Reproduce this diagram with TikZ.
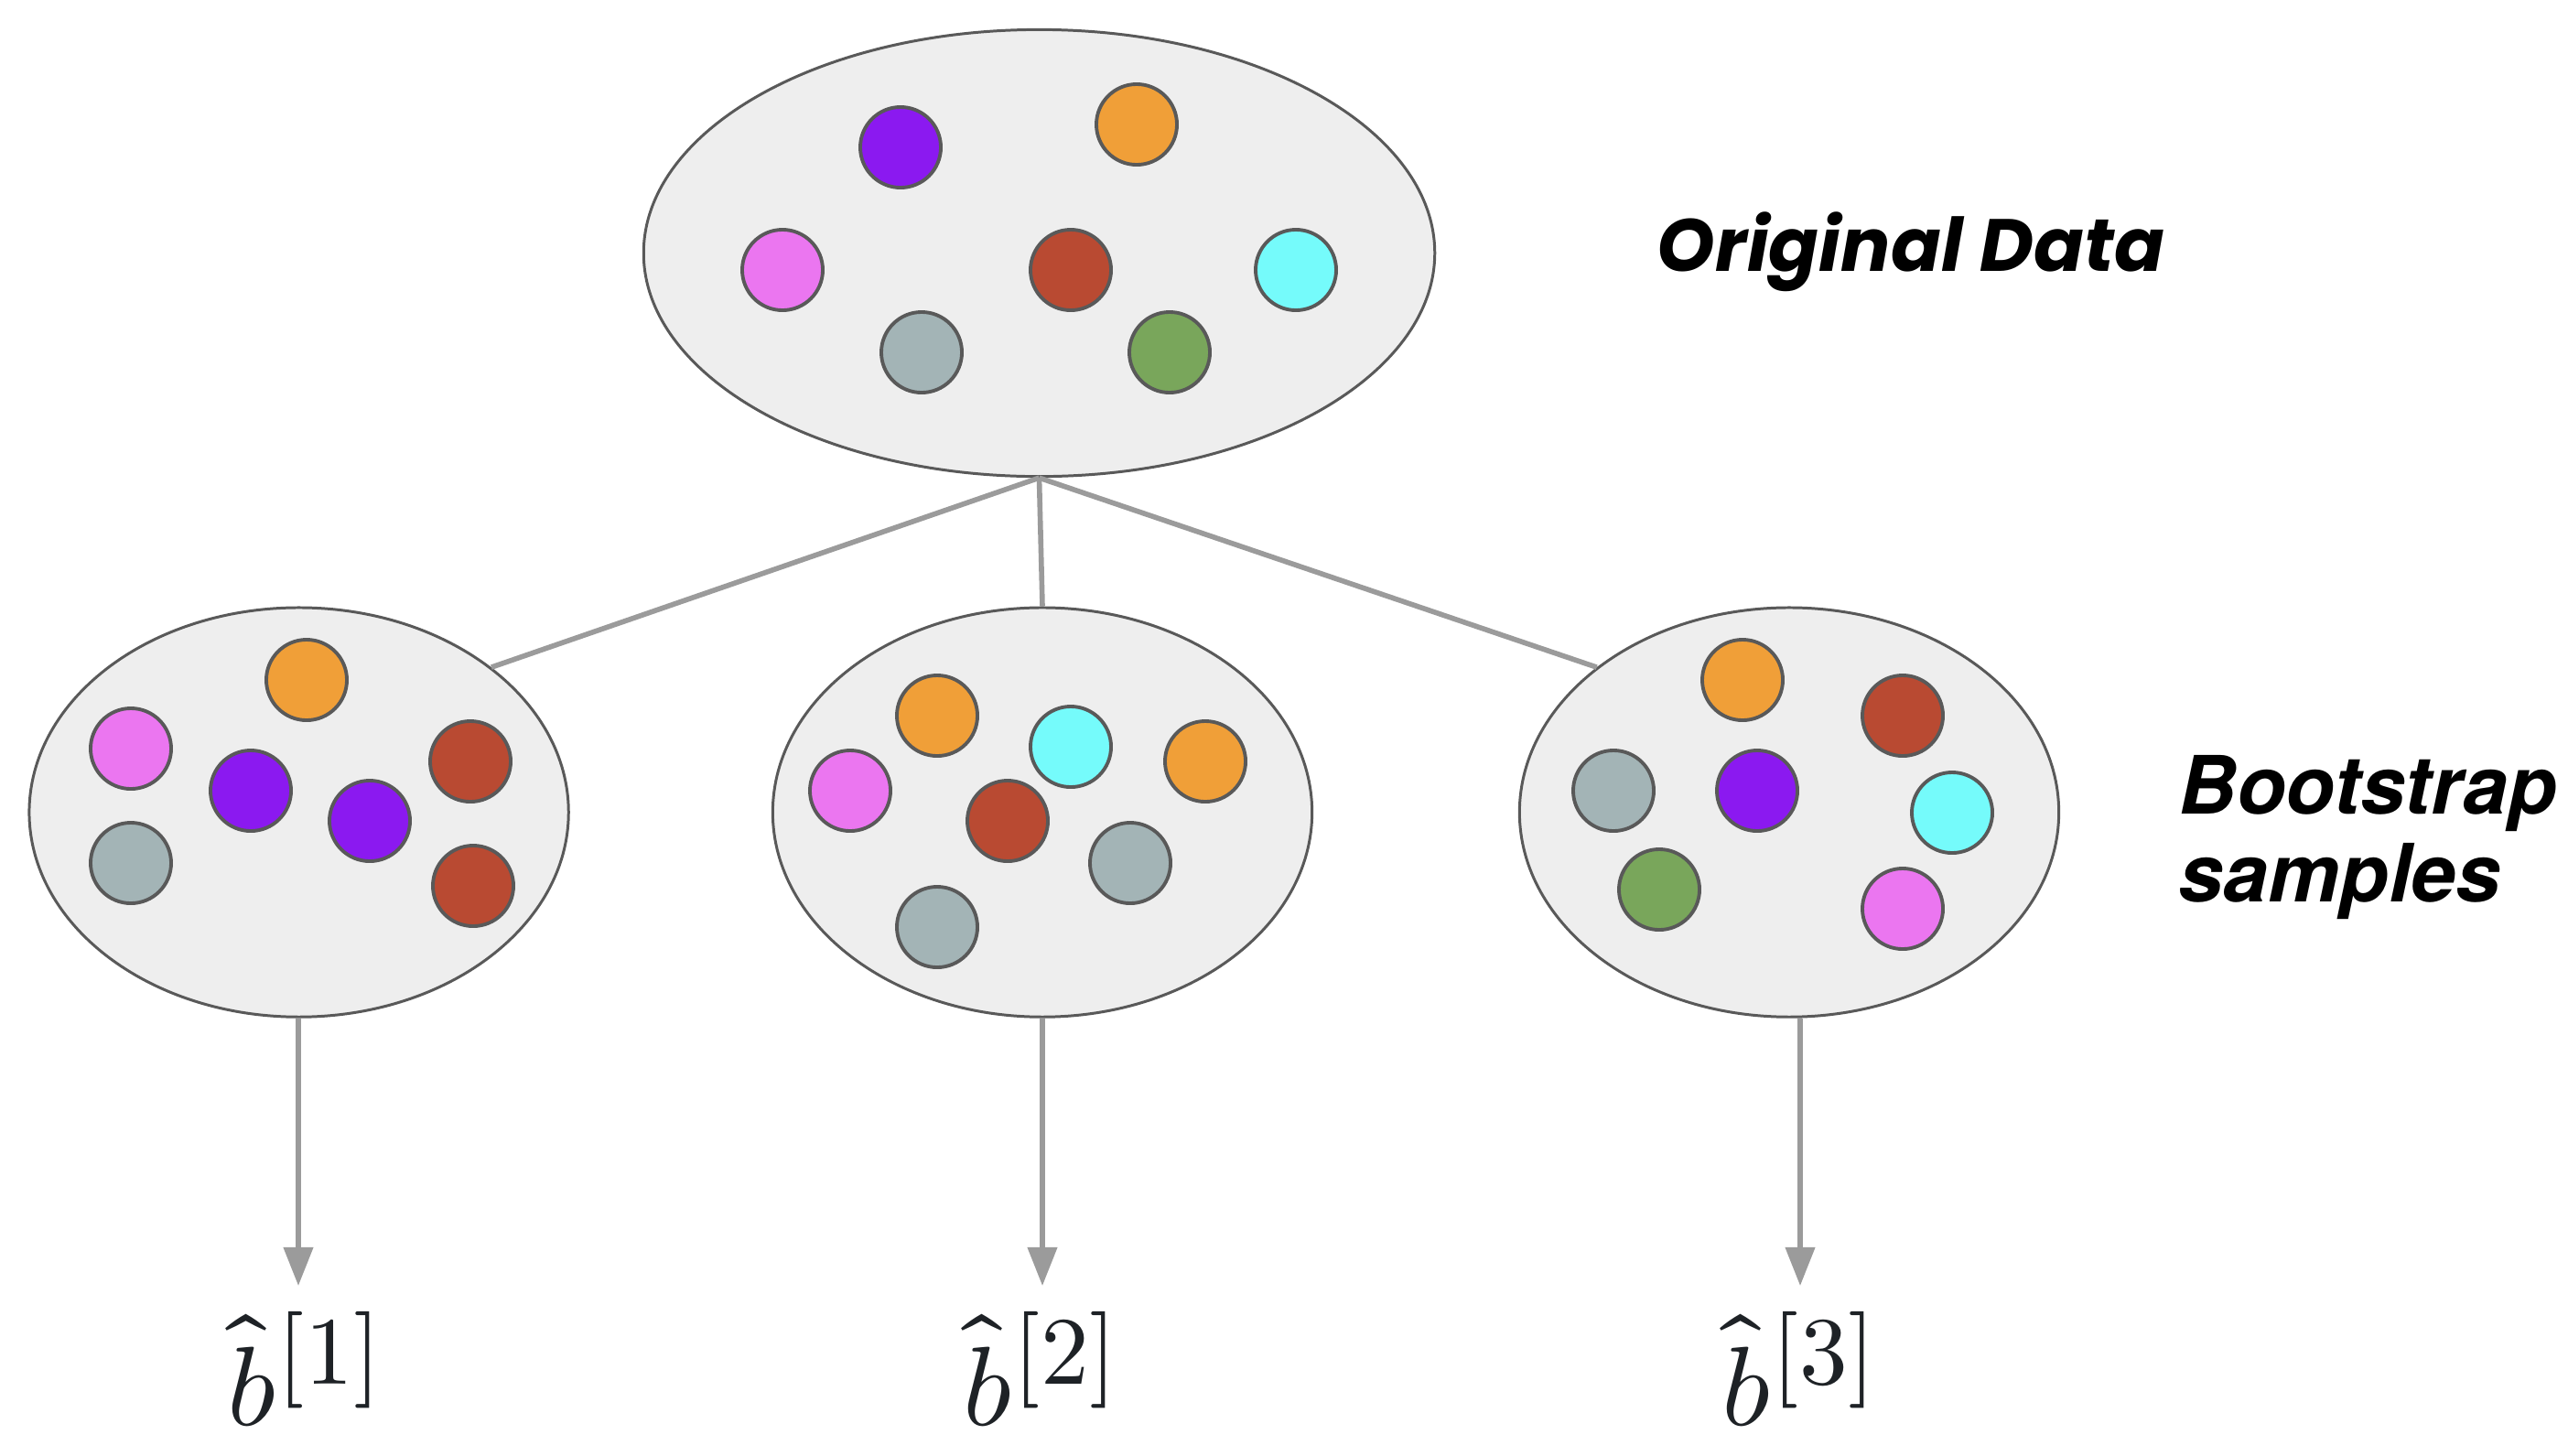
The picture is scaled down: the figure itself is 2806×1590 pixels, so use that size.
\documentclass[tikz,border=0pt]{standalone}
\usepackage{fontspec}
\usepackage{unicode-math}
\setmathfont{Latin Modern Math}
\usetikzlibrary{shapes.geometric,arrows.meta,calc}
\newfontfamily\poppfont{Poppins}
\newfontfamily\herosfont{TeX Gyre Heros}
\definecolor{edgec}{HTML}{595959}
\definecolor{setfill}{HTML}{EEEEEE}
\definecolor{linkc}{HTML}{9B9B9B}
\definecolor{cpurple}{HTML}{8B19F0}
\definecolor{corange}{HTML}{F09F38}
\definecolor{cpink}{HTML}{EB76F0}
\definecolor{cred}{HTML}{B94A32}
\definecolor{ccyan}{HTML}{75FBFB}
\definecolor{cgray}{HTML}{A3B4B6}
\definecolor{cgreen}{HTML}{79A65B}
\definecolor{mathc}{HTML}{1E2226}
\newcommand{\bhatlabel}[1]{{\fontsize{35}{40}\selectfont$\hat{b}^{\mbox{\fontsize{30}{34}\selectfont$[#1]$}}$}}
\begin{document}
\begin{tikzpicture}[x=0.01cm,y=-0.01cm,
  bigset/.style={ellipse, draw=edgec, fill=setfill, line width=0.85pt, inner sep=0pt},
  topset/.style={bigset, minimum width=8.64cm, minimum height=4.88cm},
  subset/.style={bigset, minimum width=5.89cm, minimum height=4.47cm},
  ball/.style={circle, draw=edgec, line width=1.1pt, minimum size=0.88cm, inner sep=0pt},
  link/.style={draw=linkc, line width=1.6pt},
  arrowlink/.style={link, -{Triangle[length=12pt,width=9pt]}},
  est/.style={text=mathc, inner sep=0pt, anchor=base},
  caption/.style={font=\fontsize{25}{27}\selectfont, inner sep=0pt}
]
\useasboundingbox (0,0) rectangle (2806,1590);

% sets
\node[topset] (top) at (1135.5,276.5) {};
\node[subset] (l) at (326.6,887.6) {};
\node[subset] (m) at (1139,887.6) {};
\node[subset] (r) at (1955,887.6) {};

% original data
\node[ball, fill=cpurple] (o1) at (984,161) {};
\node[ball, fill=corange] (o2) at (1242,136) {};
\node[ball, fill=cpink]   (o3) at (855,295) {};
\node[ball, fill=cred]    (o4) at (1170,295) {};
\node[ball, fill=ccyan]   (o5) at (1416,295) {};
\node[ball, fill=cgray]   (o6) at (1007,385) {};
\node[ball, fill=cgreen]  (o7) at (1278,385) {};

% sample 1
\node[ball, fill=corange] (a1) at (335,743) {};
\node[ball, fill=cpink]   (a2) at (143,818) {};
\node[ball, fill=cpurple] (a3) at (274,864) {};
\node[ball, fill=cpurple] (a4) at (404,897) {};
\node[ball, fill=cred]    (a5) at (514,832) {};
\node[ball, fill=cgray]   (a6) at (143,943) {};
\node[ball, fill=cred]    (a7) at (517,968) {};

% sample 2
\node[ball, fill=corange] (b1) at (1024,782) {};
\node[ball, fill=ccyan]   (b2) at (1170,816) {};
\node[ball, fill=corange] (b3) at (1317,832) {};
\node[ball, fill=cpink]   (b4) at (929,864) {};
\node[ball, fill=cred]    (b5) at (1101,897) {};
\node[ball, fill=cgray]   (b6) at (1235,943) {};
\node[ball, fill=cgray]   (b7) at (1024,1013) {};

% sample 3
\node[ball, fill=corange] (c1) at (1904,743) {};
\node[ball, fill=cred]    (c2) at (2079,782) {};
\node[ball, fill=cgray]   (c3) at (1763,864) {};
\node[ball, fill=cpurple] (c4) at (1920,864) {};
\node[ball, fill=ccyan]   (c5) at (2133,888) {};
\node[ball, fill=cgreen]  (c6) at (1813,972) {};
\node[ball, fill=cpink]   (c7) at (2079,993) {};

% connectors
\draw[link] (top.south) -- (l.37);
\draw[link] (top.south) -- (m.north);
\draw[link] (top.south) -- (r.143);

% estimates
\coordinate (t1) at (326,1405);
\coordinate (t2) at (1139,1405);
\coordinate (t3) at (1967,1405);
\draw[arrowlink] (l.south -| t1) -- (t1);
\draw[arrowlink] (m.south -| t2) -- (t2);
\draw[arrowlink] (r.south -| t3) -- (t3);
\node[est] (e1) at (333,1557) {\bhatlabel{1}};
\node[est] (e2) at (1137,1557) {\bhatlabel{2}};
\node[est] (e3) at (1966,1557) {\bhatlabel{3}};

% captions
\node[caption, font=\fontsize{23}{27}\selectfont\poppfont\bfseries\itshape] (orig) at (2088,275) {Original Data};
\node[caption, font=\fontsize{25}{27.5}\selectfont\herosfont\bfseries\itshape, anchor=west, align=left] (boot) at (2380,915) {Bootstrap\\samples};
\end{tikzpicture}
\end{document}
